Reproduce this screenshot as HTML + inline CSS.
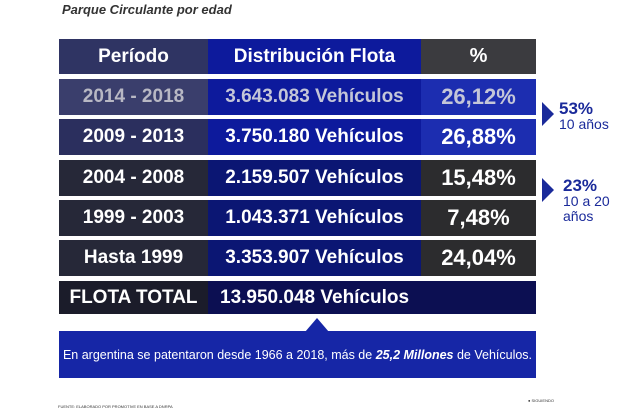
<!DOCTYPE html>
<html><head><meta charset="utf-8"><style>
body{margin:0;width:628px;height:410px;background:#fff;position:relative;font-family:"Liberation Sans",sans-serif;overflow:hidden}
.t{position:absolute;left:62px;top:2px;font-size:13px;font-style:italic;font-weight:bold;color:#333}
.r{position:absolute;left:59px;width:477px;display:flex;height:36px}
.r div{display:flex;align-items:center;justify-content:center;color:#fff;font-weight:bold;font-size:19px}
.c1{width:149px}.c2{width:213px}.c3{width:115px;font-size:22px!important}
.side{position:absolute;color:#1a2a9a;font-size:14px;line-height:15px}
.side b{font-size:17px}
.tri{position:absolute;width:0;height:0;border-top:12px solid transparent;border-bottom:12px solid transparent;border-left:12px solid #1a2a9a}
</style></head><body>
<div class="t">Parque Circulante por edad</div>
<div class="r" style="top:39px;height:35px"><div class="c1" style="background:#2f3463">Período</div><div class="c2" style="background:#0d1a9c">Distribución Flota</div><div class="c3" style="background:#3b3b3f;font-size:20px!important">%</div></div>
<div class="r" style="top:79px"><div class="c1" style="background:#3a3e6c;color:#b8b8c4">2014 - 2018</div><div class="c2" style="background:#0d1a9c;color:#c4c6d8">3.643.083 Vehículos</div><div class="c3" style="background:#1c2db0;color:#c4c6d8">26,12%</div></div>
<div class="r" style="top:119px"><div class="c1" style="background:#2b2f5e">2009 - 2013</div><div class="c2" style="background:#0d1a9c">3.750.180 Vehículos</div><div class="c3" style="background:#1c2db0">26,88%</div></div>
<div class="r" style="top:160px"><div class="c1" style="background:#262838">2004 - 2008</div><div class="c2" style="background:#0b1673">2.159.507 Vehículos</div><div class="c3" style="background:#2c2c2e">15,48%</div></div>
<div class="r" style="top:200px"><div class="c1" style="background:#262838">1999 - 2003</div><div class="c2" style="background:#0b1673">1.043.371 Vehículos</div><div class="c3" style="background:#2c2c2e">7,48%</div></div>
<div class="r" style="top:240px"><div class="c1" style="background:#262838">Hasta 1999</div><div class="c2" style="background:#0b1673">3.353.907 Vehículos</div><div class="c3" style="background:#2c2c2e">24,04%</div></div>
<div class="r" style="top:281px;height:33px;background:#0c0f52"><div class="c1" style="background:#1b1c2a">FLOTA TOTAL</div><div style="justify-content:flex-start;padding-left:12px">13.950.048 Vehículos</div></div>
<div style="position:absolute;left:305px;top:318px;width:0;height:0;border-left:12px solid transparent;border-right:12px solid transparent;border-bottom:14px solid #1626a6"></div>
<div style="position:absolute;left:59px;top:331px;width:477px;height:47px;background:#1626a6;color:#fff;font-size:12.5px;display:flex;align-items:center;justify-content:center">En argentina se patentaron desde 1966 a 2018, más de&nbsp;<b><i>25,2 Millones</i></b>&nbsp;de Vehículos.</div>
<div class="tri" style="left:542px;top:102px"></div>
<div class="side" style="left:559px;top:101px"><b>53%</b><br>10 años</div>
<div class="tri" style="left:542px;top:178px"></div>
<div class="side" style="left:563px;top:178px"><b>23%</b><br>10 a 20<br>años</div>
<div style="position:absolute;left:58px;top:404px;font-size:4px;color:#333">FUENTE: ELABORADO POR PROMOTIVE EN BASE A DNRPA</div>
<div style="position:absolute;left:528px;top:398px;font-size:4px;color:#333">● SIGUIENDO</div>
</body></html>
